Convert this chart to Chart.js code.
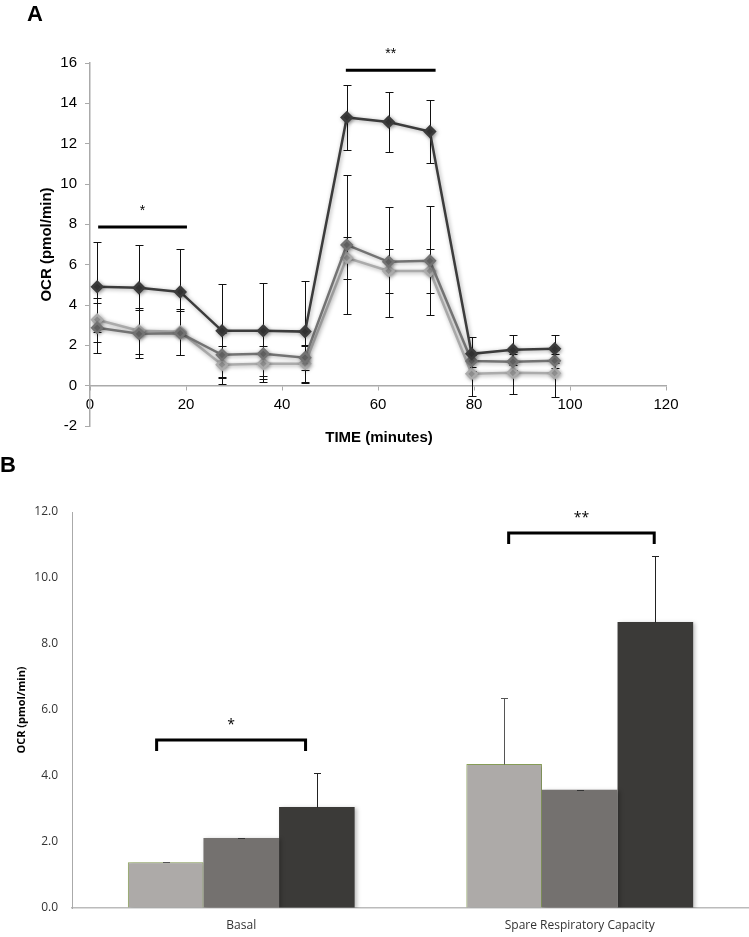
<!DOCTYPE html>
<html>
<head>
<meta charset="utf-8">
<script src="https://cdn.jsdelivr.net/npm/chart.js@4.4.1/dist/chart.umd.min.js"></script>
<style>
  body { margin: 0; background: #fff; width: 749px; height: 937px; position: relative; overflow: hidden; }
  #wrapA { position: absolute; left: 0; top: 0; width: 749px; height: 460px; }
  #wrapB { position: absolute; left: 0; top: 460px; width: 749px; height: 477px; }
  .panel { position: absolute; font-family: "Liberation Sans", Arial, sans-serif; font-weight: bold; font-size: 22px; line-height: 22px; z-index: 2; }
</style>
</head>
<body>
<div id="wrapA"><canvas id="chartA" width="749" height="460"></canvas></div>
<div id="wrapB"><canvas id="chartB" width="749" height="477"></canvas></div>
<div class="panel" style="left:27px; top:3px;">A</div>
<div class="panel" style="left:0px; top:454px;">B</div>
<script>
// ---- panel A: OCR over time ----
const times = [1.5, 10.2, 18.8, 27.5, 36.1, 44.8, 53.5, 62.2, 70.8, 79.5, 88.1, 96.8];
const ocrDark = [4.9, 4.85, 4.65, 2.72, 2.72, 2.68, 13.3, 13.07, 12.6, 1.58, 1.78, 1.83];
const ocrMid = [2.87, 2.57, 2.6, 1.53, 1.58, 1.39, 6.98, 6.14, 6.19, 1.22, 1.19, 1.24];
const ocrLight = [3.27, 2.72, 2.67, 1.04, 1.09, 1.09, 6.34, 5.69, 5.69, 0.59, 0.64, 0.62];
const errDark = [2.23, 2.13, 2.13, 2.33, 2.38, 2.5, 1.6, 1.48, 1.56, 0.85, 0.74, 0.7];
const errMid = [1.24, 1.2, 1.1, 1.1, 1.1, 0.6, 3.45, 2.72, 2.7, 0.3, 0.4, 0.35];
const errLight = [1.09, 1.15, 1.14, 0.95, 0.9, 0.94, 1.05, 1.1, 1.1, 1.1, 1.04, 1.17];
const xTicksA = [0, 20, 40, 60, 80, 100, 120];
const sigAStart = [1.7, 53.3];
const sigAEnd = [20.2, 72];
const sigAY = [7.87, 15.64];
const sigALabel = ['*', '**'];

// ---- panel B: basal / spare capacity ----
const categories = ['Basal', 'Spare Respiratory Capacity'];
const barLight = [1.39, 4.36];
const barMid = [2.12, 3.58];
const barDark = [3.06, 8.67];
const errBarLight = [0, 2.0];
const errBarMid = [0, 0];
const errBarDark = [1.03, 2.0];
const sigBStart = [-0.25, -0.21];
const sigBEnd = [0.19, 0.22];
const sigBTop = [5.09, 11.36];
const sigBLabel = ['*', '**'];

const arial = '"Liberation Sans", Arial, sans-serif';
const calib = '"Open Sans", "Noto Sans", sans-serif';

const pts = vals => vals.map((v, i) => ({ x: times[i], y: v }));

const errorBarsA = {
  id: 'errorBarsA',
  beforeDatasetsDraw(chart) {
    const { ctx, scales: { x, y } } = chart;
    const errs = [errDark, errMid, errLight];
    ctx.save();
    ctx.strokeStyle = '#111';
    ctx.lineWidth = 1;
    errs.forEach((err, i) => {
      chart.data.datasets[i].data.forEach((p, j) => {
        const px = Math.round(x.getPixelForValue(p.x)) + 0.5;
        const top = Math.round(y.getPixelForValue(p.y + err[j])) + 0.5;
        const bot = Math.round(y.getPixelForValue(p.y - err[j])) + 0.5;
        ctx.beginPath();
        ctx.moveTo(px, top); ctx.lineTo(px, bot);
        ctx.moveTo(px - 4, top); ctx.lineTo(px + 4, top);
        ctx.moveTo(px - 4, bot); ctx.lineTo(px + 4, bot);
        ctx.stroke();
      });
    });
    ctx.restore();
    ctx.save();
    ctx.shadowColor = 'rgba(0,0,0,0.35)';
    ctx.shadowBlur = 4;
    ctx.shadowOffsetX = 1;
    ctx.shadowOffsetY = 1;
  },
  afterDatasetsDraw(chart) {
    const { ctx, chartArea, scales: { x, y } } = chart;
    ctx.restore();
    ctx.save();
    ctx.strokeStyle = '#000';
    ctx.lineWidth = 3;
    ctx.fillStyle = '#000';
    ctx.font = '14px ' + arial;
    ctx.textAlign = 'center';
    ctx.textBaseline = 'middle';
    sigAY.forEach((v, i) => {
      const x0 = x.getPixelForValue(sigAStart[i]);
      const x1 = x.getPixelForValue(sigAEnd[i]);
      const py = y.getPixelForValue(v);
      ctx.beginPath();
      ctx.moveTo(x0, py); ctx.lineTo(x1, py);
      ctx.stroke();
      ctx.fillText(sigALabel[i], (x0 + x1) / 2, py - 16);
    });
    // axis titles
    ctx.font = 'bold 15px ' + arial;
    ctx.fillText('TIME (minutes)', 379, 438);
    ctx.translate(47, (chartArea.top + chartArea.bottom) / 2);
    ctx.rotate(-Math.PI / 2);
    ctx.fillText('OCR (pmol/min)', 0, 0);
    ctx.restore();
  }
};

new Chart(document.getElementById('chartA'), {
  type: 'line',
  data: {
    datasets: [
      { data: pts(ocrDark), borderColor: '#3c3c3c', backgroundColor: '#3c3c3c', borderWidth: 2.5,
        pointStyle: 'rectRot', pointRadius: 5, tension: 0 },
      { data: pts(ocrMid), borderColor: '#737373', backgroundColor: '#737373', borderWidth: 2.5,
        pointStyle: 'rectRot', pointRadius: 5, tension: 0 },
      { data: pts(ocrLight), borderColor: '#ababab', backgroundColor: '#ababab', borderWidth: 2.5,
        pointStyle: 'rectRot', pointRadius: 5, tension: 0 }
    ]
  },
  options: {
    responsive: false,
    animation: false,
    layout: { padding: { top: 63, right: 83, bottom: 34, left: 0 } },
    plugins: { legend: { display: false }, tooltip: { enabled: false } },
    scales: {
      x: {
        type: 'linear', min: 0, max: 120,
        position: { y: 0 },
        afterBuildTicks: s => { s.ticks = xTicksA.map(v => ({ value: v })); },
        afterFit: s => { s.height = 0; },
        ticks: { font: { family: arial, size: 15 }, color: '#000', padding: 6, maxRotation: 0 },
        grid: { drawOnChartArea: false, drawTicks: true, tickLength: 4, color: '#aaa' },
        border: { color: '#aaa', width: 1.5 }
      },
      y: {
        min: -2, max: 16,
        ticks: { stepSize: 2, font: { family: arial, size: 15 }, color: '#000', padding: 8 },
        afterFit: s => { s.width = 90; },
        grid: { drawOnChartArea: false, drawTicks: true, tickLength: 5, color: '#aaa' },
        border: { color: '#aaa', width: 1.5 }
      }
    }
  },
  plugins: [errorBarsA]
});

const errorBarsB = {
  id: 'errorBarsB',
  beforeDatasetsDraw(chart) {
    const { ctx } = chart;
    ctx.save();
    ctx.shadowColor = 'rgba(0,0,0,0.25)';
    ctx.shadowBlur = 4;
    ctx.shadowOffsetX = 2;
    ctx.shadowOffsetY = 1;
  },
  afterDatasetsDraw(chart) {
    const { ctx, chartArea, scales: { x, y } } = chart;
    ctx.restore();
    ctx.save();
    const errs = [errBarLight, errBarMid, errBarDark];
    const cols = ['#555', '#333', '#222'];
    errs.forEach((err, i) => {
      const meta = chart.getDatasetMeta(i);
      meta.data.forEach((bar, j) => {
        const v = chart.data.datasets[i].data[j];
        const px = Math.round(bar.x) + 0.5;
        const base = Math.round(y.getPixelForValue(v)) + 0.5;
        const top = Math.round(y.getPixelForValue(v + err[j])) + 0.5;
        ctx.strokeStyle = cols[i];
        ctx.lineWidth = 1;
        ctx.beginPath();
        ctx.moveTo(px, base); ctx.lineTo(px, top);
        ctx.moveTo(px - 3.5, top); ctx.lineTo(px + 3.5, top);
        ctx.stroke();
      });
    });
    ctx.strokeStyle = '#000';
    ctx.lineWidth = 3;
    ctx.fillStyle = '#000';
    ctx.font = '14px ' + calib;
    ctx.textAlign = 'center';
    ctx.textBaseline = 'middle';
    sigBTop.forEach((v, i) => {
      const x0 = x.getPixelForValue(i + sigBStart[i]);
      const x1 = x.getPixelForValue(i + sigBEnd[i]);
      const py = y.getPixelForValue(v);
      const drop = y.getPixelForValue(v - 0.33);
      ctx.beginPath();
      ctx.moveTo(x0, drop); ctx.lineTo(x0, py); ctx.lineTo(x1, py); ctx.lineTo(x1, drop);
      ctx.stroke();
      ctx.fillText(sigBLabel[i], (x0 + x1) / 2, py - 15);
    });
    ctx.font = 'bold 11px ' + calib;
    ctx.translate(22, (chartArea.top + chartArea.bottom) / 2);
    ctx.rotate(-Math.PI / 2);
    ctx.fillText('OCR (pmol/min)', 0, 0);
    ctx.restore();
  }
};

new Chart(document.getElementById('chartB'), {
  type: 'bar',
  data: {
    labels: categories,
    datasets: [
      { data: barLight, backgroundColor: '#adaaa8', borderColor: '#8fa65c', borderWidth: 1 },
      { data: barMid, backgroundColor: '#74716f', borderWidth: 0 },
      { data: barDark, backgroundColor: '#3b3a38', borderWidth: 0 }
    ]
  },
  options: {
    responsive: false,
    animation: false,
    layout: { padding: { top: 52, right: 0, bottom: 0, left: 0 } },
    datasets: { bar: { categoryPercentage: 0.67, barPercentage: 1 } },
    plugins: { legend: { display: false }, tooltip: { enabled: false } },
    scales: {
      x: {
        afterFit: s => { s.height = 29; },
        ticks: { font: { family: calib, size: 12 }, color: '#333', padding: 10 },
        grid: { drawOnChartArea: false, drawTicks: false },
        border: { color: '#bbb', width: 1.5 }
      },
      y: {
        min: 0, max: 12,
        afterFit: s => { s.width = 72; },
        ticks: { stepSize: 2, font: { family: calib, size: 12 }, color: '#333', padding: 14,
                 callback: v => v.toFixed(1) },
        grid: { drawOnChartArea: false, drawTicks: false },
        border: { color: '#aaa', width: 1 }
      }
    }
  },
  plugins: [errorBarsB]
});
</script>
</body>
</html>
